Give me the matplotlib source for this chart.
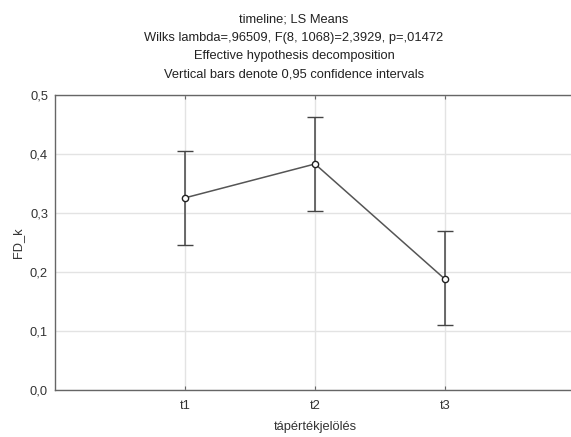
import matplotlib
matplotlib.use("Agg")
import matplotlib.pyplot as plt

plt.rcParams['font.family'] = ['Liberation Sans', 'DejaVu Sans']

categories = ["t1", "t2", "t3"]
means = [0.326, 0.3835, 0.188]
ci_low = [0.2466, 0.3037, 0.110]
ci_high = [0.4055, 0.4627, 0.270]
title_lines = [
    "timeline; LS Means",
    "Wilks lambda=,96509, F(8, 1068)=2,3929, p=,01472",
    "Effective hypothesis decomposition",
    "Vertical bars denote 0,95 confidence intervals",
]
yticks = [0.0, 0.1, 0.2, 0.3, 0.4, 0.5]

W, H = 571, 437
fs = 9.3
fig = plt.figure(figsize=(W / 100, H / 100), dpi=100)
left, right, top, bottom = 55, 575, 95.3, 390
ax = fig.add_axes([left / W, (H - bottom) / H, (right - left) / W, (bottom - top) / H])

x = list(range(1, len(categories) + 1))
lo_err = [m - l for m, l in zip(means, ci_low)]
hi_err = [h - m for m, h in zip(means, ci_high)]
line_col = "#555555"
ax.errorbar(x, means, yerr=[lo_err, hi_err], color=line_col, lw=1.1,
            ecolor="#444444", elinewidth=1.1, capsize=6, capthick=1.1,
            marker="o", markersize=4.5, markerfacecolor="white",
            markeredgecolor="#222222", markeredgewidth=1.0, zorder=3)

ax.set_xlim(0, 4)
ax.set_ylim(0, 0.5)
ax.set_xticks(x)
ax.set_xticklabels(categories)
ax.set_yticks(yticks)
ax.set_yticklabels([f"{v:.1f}".replace(".", ",") for v in yticks])
ax.grid(True, color="#e3e3e3", lw=1.0, zorder=0)
ax.set_axisbelow(True)
for s in ax.spines.values():
    s.set_color("#666666")
    s.set_linewidth(1.0)
ax.tick_params(direction="in", length=3, width=0.8, color="#666666",
               labelsize=fs, labelcolor="#333333", top=True, right=False)
ax.tick_params(axis="y", length=0, pad=5)
ax.tick_params(axis="x", pad=7)

ax.set_xlabel("tápértékjelölés", fontsize=fs, color="#333333", labelpad=7)
fig.text(18 / W, (H - 243) / H, "FD_k", rotation=90, ha="center", va="center",
         fontsize=fs, color="#333333")

ys = [19, 37.5, 56, 74.5]
for t, yy in zip(title_lines, ys):
    fig.text(294 / W, 1 - yy / H, t, ha="center", va="center", fontsize=fs, color="#222222")

fig.savefig("out.png", dpi=100)
